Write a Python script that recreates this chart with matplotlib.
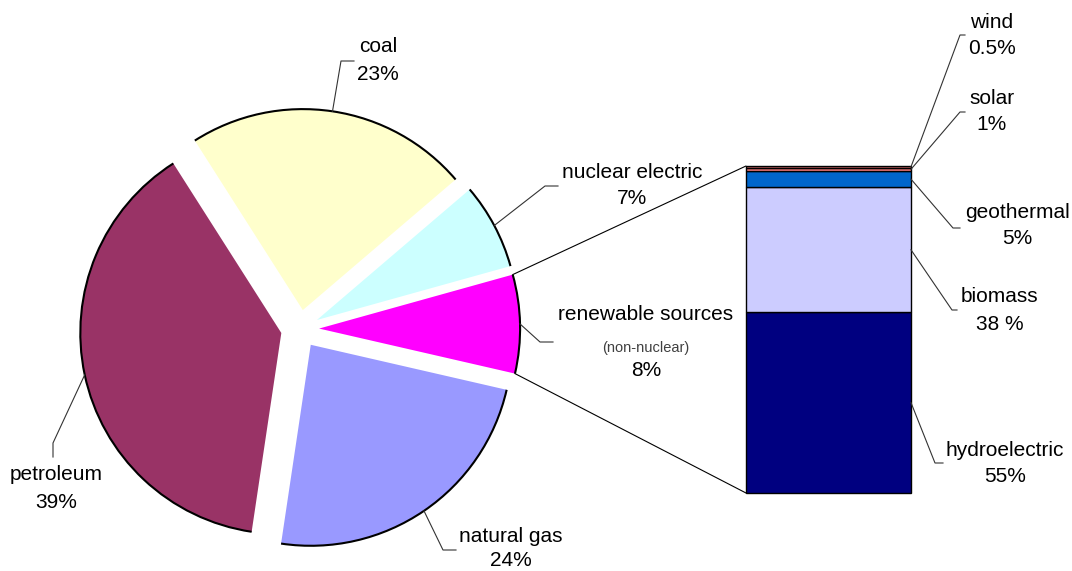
import matplotlib
matplotlib.use('Agg')
import matplotlib.pyplot as plt
from matplotlib.patches import Arc, ConnectionPatch
import numpy as np

plt.rcParams['font.family'] = ['Liberation Sans', 'DejaVu Sans']

# energy consumption by source
sources = ['coal', 'nuclear electric', 'renewable sources', 'natural gas', 'petroleum']
shares = [23, 7, 8, 24, 39]
share_labels = ['23%', '7%', '8%', '24%', '39%']
pie_colors = ['#FFFFCC', '#CCFFFF', '#FF00FF', '#9999FF', '#993366']

# breakdown of the renewable slice
renewables = ['hydroelectric', 'biomass', 'geothermal', 'solar', 'wind']
renew_shares = [55, 38, 5, 1, 0.5]
renew_labels = ['55%', '38 %', '5%', '1%', '0.5%']
bar_colors = ['#000080', '#CCCCFF', '#0066CC', '#FF8080', '#CC6666']

W, H = 1072, 571
fig = plt.figure(figsize=(W / 100, H / 100), dpi=100)

# pie lives in a square box, sized in pixels
R = 201
cx, cy = 300, 329
side = 600
half = side / 2 / R
ax = fig.add_axes([(cx - side / 2) / W, (H - cy - side / 2) / H, side / W, side / H])
wedges, _ = ax.pie(shares, colors=pie_colors, startangle=122.5, counterclock=False,
                   explode=[0.095] * len(shares), wedgeprops=dict(linewidth=0))
ax.set_xlim(-half, half)
ax.set_ylim(-half, half)
# only the rim of each slice gets an outline
for w in wedges:
    ax.add_patch(Arc(w.center, 2 * w.r, 2 * w.r, theta1=w.theta1, theta2=w.theta2,
                     lw=1.5, color='black'))

# stacked bar for the renewables
bar_left, bar_right, bar_top, bar_bottom = 746, 911, 166, 493
bx = fig.add_axes([bar_left / W, (H - bar_bottom) / H,
                   (bar_right - bar_left) / W, (bar_bottom - bar_top) / H])
bottoms = np.concatenate([[0], np.cumsum(renew_shares)[:-1]])
total = sum(renew_shares)
bars = bx.bar([0] * len(renew_shares), renew_shares, bottom=bottoms, width=1,
              color=bar_colors, edgecolor='black', linewidth=1.0)
for b in bars:
    b.set_clip_on(False)
bx.set_xlim(-0.5, 0.5)
bx.set_ylim(0, total)
bx.axis('off')

# lines joining the renewable slice to the bar
rw = wedges[2]
for ang, yb in [(rw.theta2, total), (rw.theta1, 0)]:
    t = np.radians(ang)
    pa = (rw.center[0] + rw.r * np.cos(t), rw.center[1] + rw.r * np.sin(t))
    con = ConnectionPatch(xyA=pa, coordsA=ax.transData, xyB=(-0.5, yb), coordsB=bx.transData,
                          color='black', lw=0.8)
    fig.add_artist(con)

# overlay in pixel units for labels and leader lines
ov = fig.add_axes([0, 0, 1, 1])
ov.set_xlim(0, W)
ov.set_ylim(H, 0)
ov.axis('off')
ov.patch.set_alpha(0)


def to_px(axis, pt):
    return ov.transData.inverted().transform(axis.transData.transform(pt))


LEAD = dict(color='#333333', lw=0.8)
FS = 15
STEP = 27

pie_text_xy = [(378, 47), (632, 172), (646, 315), (511, 536), (56, 475)]
pie_elbows = [[(341, 61), (354, 61)], [(545, 186), (558, 186)], [(540, 342), (553, 342)],
              [(443, 550), (456, 550)], [(53, 443), (53, 457)]]

for w, name, pct, (tx, ty), elb in zip(wedges, sources, share_labels, pie_text_xy, pie_elbows):
    t = np.radians((w.theta1 + w.theta2) / 2)
    anchor = to_px(ax, (w.center[0] + w.r * np.cos(t), w.center[1] + w.r * np.sin(t)))
    pts = [anchor] + elb
    ov.plot([p[0] for p in pts], [p[1] for p in pts], **LEAD)
    ov.text(tx, ty, name, ha='center', va='center', fontsize=FS)
    if name == 'renewable sources':
        ov.text(tx, ty + 33, '(non-nuclear)', ha='center', va='center', fontsize=10.5,
                color='#404040')
        ov.text(tx, ty + 55, pct, ha='center', va='center', fontsize=FS)
    elif name == 'natural gas':
        ov.text(tx, ty + STEP - 2, pct, ha='center', va='center', fontsize=FS)
    else:
        ov.text(tx, ty + STEP, pct, ha='center', va='center', fontsize=FS)

bar_text_xy = [(1005, 450), (1000, 297), (1017, 212), (992, 98), (992, 22)]
bar_elbows = [[(935, 463), (943, 463)], [(952, 310), (957, 310)], [(953, 228), (960, 228)],
              [(960, 112), (965, 112)], [(960, 35), (965, 35)]]

for name, pct, v, b0, (tx, ty), elb in zip(renewables, renew_labels, renew_shares, bottoms,
                                          bar_text_xy, bar_elbows):
    anchor = to_px(bx, (0.5, b0 + v / 2))
    pts = [anchor] + elb
    ov.plot([p[0] for p in pts], [p[1] for p in pts], **LEAD)
    ov.text(tx, ty, name, ha='center', va='center', fontsize=FS)
    ov.text(tx, ty + STEP, pct, ha='center', va='center', fontsize=FS)

fig.savefig('out.png', dpi=100)
